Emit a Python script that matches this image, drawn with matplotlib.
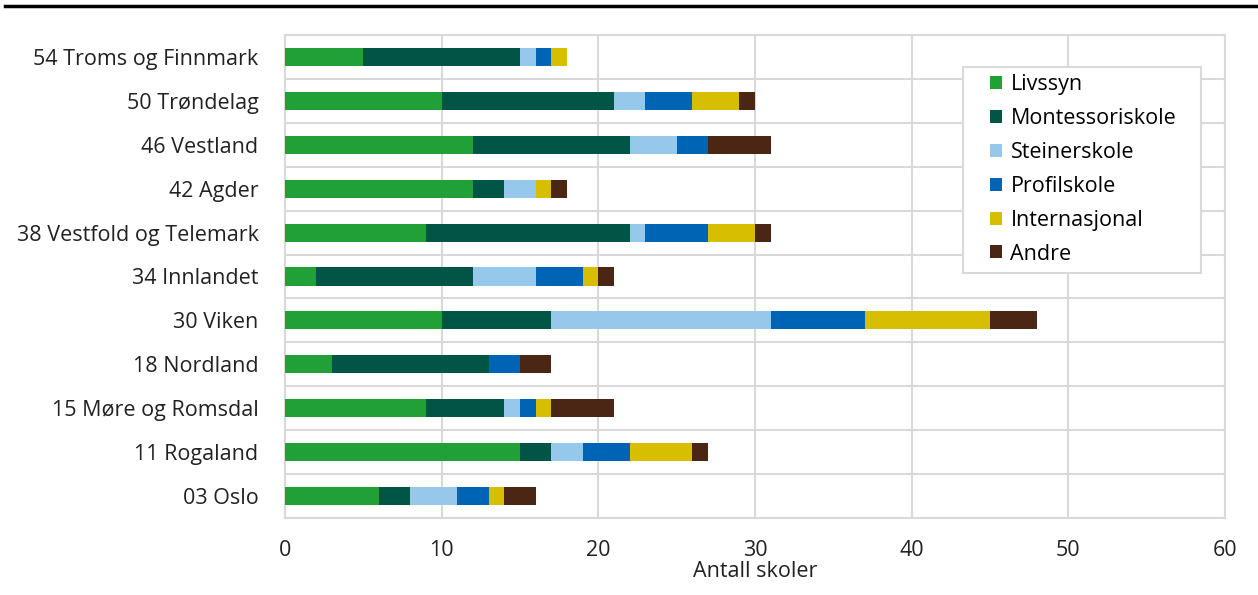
import numpy as np
import matplotlib.pyplot as plt
from matplotlib.lines import Line2D
from matplotlib.patches import Rectangle

plt.rcParams['font.family'] = ['Open Sans', 'DejaVu Sans']

# Counties, bottom to top
regions = ['03 Oslo', '11 Rogaland', '15 Møre og Romsdal', '18 Nordland', '30 Viken',
           '34 Innlandet', '38 Vestfold og Telemark', '42 Agder', '46 Vestland',
           '50 Trøndelag', '54 Troms og Finnmark']

livssyn = [6, 15, 9, 3, 10, 2, 9, 12, 12, 10, 5]
montessori = [2, 2, 5, 10, 7, 10, 13, 2, 10, 11, 10]
steiner = [3, 2, 1, 0, 14, 4, 1, 2, 3, 2, 1]
profil = [2, 3, 1, 2, 6, 3, 4, 0, 2, 3, 1]
internasjonal = [1, 4, 1, 0, 8, 1, 3, 1, 0, 3, 1]
andre = [2, 1, 4, 2, 3, 1, 1, 1, 4, 1, 0]

series = [('Livssyn', livssyn, '#21a038'),
          ('Montessoriskole', montessori, '#005546'),
          ('Steinerskole', steiner, '#96c8eb'),
          ('Profilskole', profil, '#0064b4'),
          ('Internasjonal', internasjonal, '#d7be00'),
          ('Andre', andre, '#4b2614')]

W, H = 1258, 595
fig = plt.figure(figsize=(W / 100, H / 100), dpi=100)
ax = fig.add_axes([285 / W, 1 - 518 / H, 940 / W, 483 / H])

y = np.arange(len(regions))
left = np.zeros(len(regions))
for name, vals, color in series:
    ax.barh(y, vals, left=left, height=0.41, color=color, label=name, zorder=3)
    left += np.array(vals)

fs = 15.5
ax.set_xlim(0, 60)
ax.set_ylim(-0.5, len(regions) - 0.5)
ax.set_xticks(range(0, 61, 10))
ax.set_yticks(y)
ax.set_yticklabels(regions)
ax.set_yticks(np.arange(-0.5, len(regions), 1), minor=True)
ax.tick_params(axis='both', which='both', length=0, labelsize=fs, colors='#222222')
ax.tick_params(axis='y', pad=19)
ax.tick_params(axis='x', pad=16)
ax.grid(True, axis='x', which='major', color='#d9d9d9', linewidth=1.5, zorder=0)
ax.grid(True, axis='y', which='minor', color='#d9d9d9', linewidth=1.5, zorder=0)
for s in ax.spines.values():
    s.set_color('#d9d9d9')
    s.set_linewidth(1.5)
ax.set_xlabel('Antall skoler', fontsize=fs, color='#222222', labelpad=0)

# legend box drawn separately so its padding matches the original
fig.add_artist(Rectangle((963 / W, 1 - 273 / H), 238 / W, 206 / H, transform=fig.transFigure,
                         facecolor='white', edgecolor='#d9d9d9', linewidth=1.5, zorder=4))
leg = fig.legend(loc='upper left', bbox_to_anchor=(990 / W, 1 - 74 / H), fontsize=fs,
                 frameon=False, handlelength=0.55, handleheight=0.55, handletextpad=0.4,
                 labelspacing=0.6, borderpad=0, borderaxespad=0)
leg.set_zorder(5)

fig.add_artist(Line2D([0.004, 1.0], [0.99, 0.99], color='black', linewidth=2.5,
                      transform=fig.transFigure))

fig.savefig('out.png', dpi=100)
